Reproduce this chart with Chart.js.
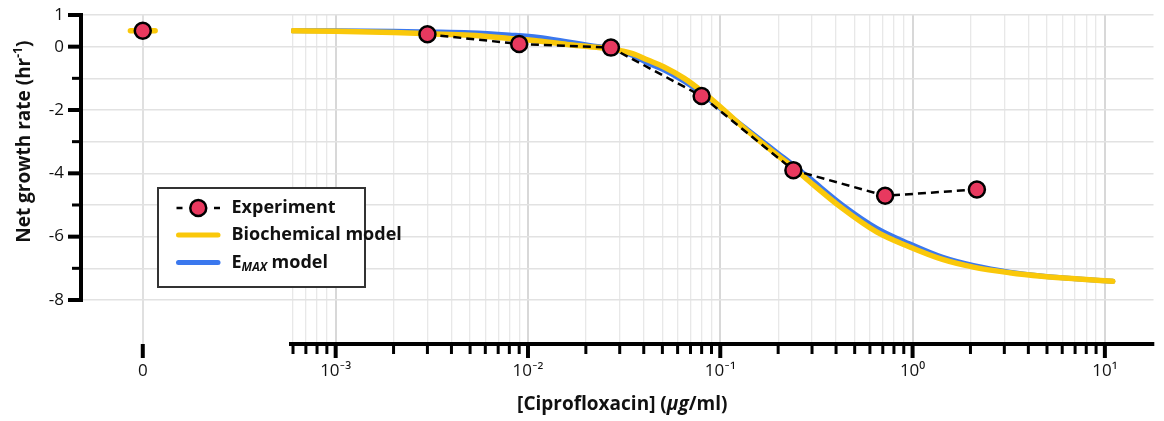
<!DOCTYPE html>
<html>
<head>
<meta charset="utf-8">
<script src="https://cdn.jsdelivr.net/npm/chart.js@4/dist/chart.umd.min.js"></script>
<style>
  html, body { margin: 0; padding: 0; background: #fff; }
  #wrap { position: relative; width: 1164px; height: 421px; }
</style>
</head>
<body>
<div id="wrap"><canvas id="growthChart"></canvas></div>
<script>
// ===== data =====
const concX = [0.003, 0.009, 0.027, 0.08, 0.24, 0.72, 2.16];      // ug/ml, 3-fold dilution
const expY = [0.39, 0.085, -0.03, -1.56, -3.9, -4.71, -4.51];
const zeroExpY = [0.5];                                           // no drug
const zeroModelX = [-0.2, 0.2];
const zeroModelY = [0.5, 0.5];

const bioX = [0.0006, 0.001, 0.002, 0.003, 0.005, 0.008, 0.0113, 0.016, 0.021, 0.027, 0.035, 0.042, 0.051, 0.065, 0.081, 0.1, 0.137, 0.2, 0.24, 0.29, 0.43, 0.65, 0.96, 1.43, 2.1, 3.2, 4.7, 7, 11];
const bioY = [0.50, 0.49, 0.45, 0.41, 0.36, 0.26, 0.18, 0.07, 0.0, -0.07, -0.22, -0.42, -0.64, -1.0, -1.43, -1.9, -2.64, -3.45, -3.82, -4.25, -5.1, -5.85, -6.32, -6.72, -6.97, -7.14, -7.25, -7.33, -7.41];
const emaxX = [0.0006, 0.001, 0.002, 0.003, 0.005, 0.008, 0.0113, 0.016, 0.021, 0.027, 0.035, 0.042, 0.051, 0.065, 0.081, 0.1, 0.137, 0.2, 0.24, 0.29, 0.43, 0.65, 0.96, 1.43, 2.1, 3.2, 4.7, 7, 11];
const emaxY = [0.50, 0.50, 0.49, 0.47, 0.44, 0.37, 0.30, 0.16, 0.04, -0.06, -0.28, -0.52, -0.74, -1.1, -1.5, -1.95, -2.6, -3.37, -3.74, -4.14, -4.99, -5.73, -6.22, -6.65, -6.92, -7.12, -7.24, -7.33, -7.41];

const xDecades = [0.001, 0.01, 0.1, 1, 10];
const xDecadeLabels = ['10⁻³', '10⁻²', '10⁻¹', '10⁰', '10¹'];
const yTickVals = [1, 0, -1, -2, -3, -4, -5, -6, -7, -8];
const yTickLabels = ['1', '0', '', '-2', '', '-4', '', '-6', '', '-8'];

const RED = '#E8395F', YELLOW = '#FAC80A', BLUE = '#3B78EE';
const FONT = '"Open Sans", Lato, sans-serif';
Chart.defaults.font.family = FONT;
Chart.defaults.color = '#111';

const pts = (xs, ys) => xs.map((x, i) => ({ x: x, y: ys[i] }));

function drawRich(ctx, parts, x, y) {
  let w = 0;
  parts.forEach(p => { ctx.font = p[1]; w += ctx.measureText(p[0]).width; });
  let cx = x - w / 2;
  parts.forEach(p => {
    ctx.font = p[1];
    ctx.fillText(p[0], cx, y + (p[2] || 0));
    cx += ctx.measureText(p[0]).width;
  });
}

function noPad(s) {
  s.paddingLeft = 0; s.paddingRight = 0; s.paddingTop = 0; s.paddingBottom = 0;
}

// axis lines + tick marks (variable lengths, chart.js can't do that per tick)
const axisMarks = {
  id: 'axisMarks',
  afterDraw(chart) {
    const { ctx, scales } = chart;
    const ys = scales.y, xs = scales.x, x0 = scales.x0;
    ctx.save();
    ctx.strokeStyle = '#000';
    ctx.lineWidth = 4;
    ctx.lineCap = 'square';
    ctx.beginPath();
    ctx.moveTo(ys.right, ys.getPixelForValue(yTickVals[0]));
    ctx.lineTo(ys.right, ys.getPixelForValue(yTickVals[yTickVals.length - 1]));
    ctx.stroke();
    ctx.lineCap = 'butt';
    yTickVals.forEach((v, i) => {
      const py = ys.getPixelForValue(v), major = yTickLabels[i] !== '';
      ctx.lineWidth = major ? 4 : 3;
      ctx.beginPath(); ctx.moveTo(ys.right, py); ctx.lineTo(ys.right - (major ? 13 : 9), py); ctx.stroke();
    });
    xs.ticks.forEach(t => {
      const px = xs.getPixelForValue(t.value), major = xDecades.includes(t.value);
      ctx.lineWidth = major ? 4 : 3;
      ctx.beginPath(); ctx.moveTo(px, xs.top); ctx.lineTo(px, xs.top + (major ? 14 : 10)); ctx.stroke();
    });
    x0.ticks.forEach(t => {
      const px = x0.getPixelForValue(t.value);
      ctx.lineWidth = 4;
      ctx.beginPath(); ctx.moveTo(px, x0.top); ctx.lineTo(px, x0.top + 14); ctx.stroke();
    });
    ctx.restore();
  }
};

// axis titles and legend (need sub/superscripts and italics)
const overlayText = {
  id: 'overlayText',
  afterDraw(chart) {
    const { ctx, chartArea, scales } = chart;
    const ys = scales.y, xs = scales.x;
    ctx.save();
    ctx.fillStyle = '#111';
    ctx.textAlign = 'left';
    ctx.textBaseline = 'middle';

    // y title
    ctx.save();
    ctx.translate(25, ys.getPixelForValue(-3));
    ctx.rotate(-Math.PI / 2);
    drawRich(ctx, [['Net growth rate (hr', 'bold 19px ' + FONT], ['-1', 'bold 12px ' + FONT, -6], [')', 'bold 19px ' + FONT]], 0, 0);
    ctx.restore();

    // x title
    drawRich(ctx, [['[Ciprofloxacin] (', 'bold 19px ' + FONT], ['μg', 'italic bold 19px ' + FONT], ['/ml)', 'bold 19px ' + FONT]],
      (chartArea.left + chartArea.right) / 2 + 5, xs.bottom + 17);

    // legend
    const bx = chartArea.left + 77, by = chartArea.top + 173, bw = 207, bh = 99;
    ctx.fillStyle = '#fff';
    ctx.fillRect(bx, by, bw, bh);
    ctx.strokeStyle = '#333';
    ctx.lineWidth = 2;
    ctx.strokeRect(bx, by, bw, bh);

    const sx1 = bx + 18.5, sx2 = bx + 62, tx = bx + 73.5;
    const rows = [by + 20, by + 47, by + 74.5];

    ctx.strokeStyle = '#000';
    ctx.lineWidth = 2.5;
    ctx.beginPath();
    ctx.moveTo(sx1, rows[0]); ctx.lineTo(sx1 + 6, rows[0]);
    ctx.moveTo(sx2 - 6, rows[0]); ctx.lineTo(sx2, rows[0]);
    ctx.stroke();
    ctx.fillStyle = RED;
    ctx.beginPath(); ctx.arc((sx1 + sx2) / 2, rows[0], 8, 0, Math.PI * 2); ctx.fill(); ctx.stroke();

    ctx.lineCap = 'round';
    ctx.lineWidth = 5;
    ctx.strokeStyle = YELLOW;
    ctx.beginPath(); ctx.moveTo(sx1 + 2, rows[1]); ctx.lineTo(sx2 - 2, rows[1]); ctx.stroke();
    ctx.strokeStyle = BLUE;
    ctx.beginPath(); ctx.moveTo(sx1 + 2, rows[2]); ctx.lineTo(sx2 - 2, rows[2]); ctx.stroke();

    ctx.fillStyle = '#111';
    ctx.font = 'bold 18px ' + FONT;
    ctx.fillText('Experiment', tx, rows[0]);
    ctx.fillText('Biochemical model', tx, rows[1]);
    let cx = tx;
    ctx.fillText('E', cx, rows[2]); cx += ctx.measureText('E').width;
    ctx.font = 'italic bold 12px ' + FONT;
    ctx.fillText('MAX', cx, rows[2] + 5); cx += ctx.measureText('MAX').width;
    ctx.font = 'bold 18px ' + FONT;
    ctx.fillText(' model', cx, rows[2]);
    ctx.restore();
  }
};

const pointStyle = {
  pointRadius: 8, pointHoverRadius: 8,
  pointBackgroundColor: RED, pointBorderColor: '#000', pointBorderWidth: 2.5
};

new Chart(document.getElementById('growthChart'), {
  type: 'line',
  data: {
    datasets: [
      Object.assign({ label: 'Experiment', data: pts(concX, expY), xAxisID: 'x',
        borderColor: '#000', borderWidth: 2.5, borderDash: [8, 5], tension: 0, order: 0 }, pointStyle),
      Object.assign({ label: 'Experiment (no drug)', data: pts([0], zeroExpY), xAxisID: 'x0',
        showLine: false, order: 0 }, pointStyle),
      { label: 'Biochemical model', data: pts(bioX, bioY), xAxisID: 'x', borderColor: YELLOW,
        borderWidth: 5.5, pointRadius: 0, cubicInterpolationMode: 'monotone', borderCapStyle: 'round', order: 1 },
      { label: 'Biochemical model (no drug)', data: pts(zeroModelX, zeroModelY), xAxisID: 'x0', borderColor: YELLOW,
        borderWidth: 5.5, pointRadius: 0, borderCapStyle: 'round', order: 1 },
      { label: 'EMAX model', data: pts(emaxX, emaxY), xAxisID: 'x', borderColor: BLUE,
        borderWidth: 5, pointRadius: 0, cubicInterpolationMode: 'monotone', borderCapStyle: 'round', order: 2 }
    ]
  },
  options: {
    responsive: true,
    maintainAspectRatio: false,
    animation: false,
    layout: { padding: { top: 15, right: 2, bottom: 33, left: 0 } },
    plugins: { legend: { display: false }, tooltip: { enabled: false } },
    scales: {
      x0: {
        type: 'linear', position: 'bottom', stack: 'conc', stackWeight: 211.7,
        min: -1, max: 2.4,
        afterBuildTicks: s => { s.ticks = [{ value: 0 }]; },
        afterFit: s => { s.height = 44; noPad(s); },
        ticks: { callback: () => '0', font: { size: 17 }, padding: 3, maxRotation: 0 },
        grid: { color: '#e0e0e0', lineWidth: 2, tickLength: 14, tickColor: 'rgba(0,0,0,0)' },
        border: { display: false }
      },
      x: {
        type: 'logarithmic', position: 'bottom', stack: 'conc', stackWeight: 869.3,
        min: 5.86e-4, max: 17.9,
        afterBuildTicks: s => {
          const t = [];
          for (let e = -4; e <= 1; e++) {
            for (let m = 1; m <= 9; m++) {
              const v = Number((m * Math.pow(10, e)).toPrecision(6));
              if (v >= s.min && v <= s.max) t.push({ value: v });
            }
          }
          s.ticks = t;
        },
        afterFit: s => { s.height = 44; noPad(s); },
        ticks: {
          autoSkip: false, maxRotation: 0, minRotation: 0, padding: 3, font: { size: 17 },
          callback: v => { const i = xDecades.indexOf(v); return i >= 0 ? xDecadeLabels[i] : ''; }
        },
        grid: {
          color: c => xDecades.includes(c.tick.value) ? '#d8d8d8' : '#e8e8e8',
          lineWidth: c => xDecades.includes(c.tick.value) ? 2 : 1.3,
          tickLength: 14, tickColor: 'rgba(0,0,0,0)'
        },
        border: { display: true, color: '#000', width: 4 }
      },
      y: {
        type: 'linear', min: -9.39, max: 1,
        afterBuildTicks: s => { s.ticks = yTickVals.map(v => ({ value: v })); },
        afterFit: s => { s.width = 81; noPad(s); },
        ticks: {
          font: { size: 17 }, padding: 5,
          callback: v => yTickLabels[yTickVals.indexOf(v)]
        },
        grid: { color: '#e2e2e2', lineWidth: 1.6, tickLength: 12, tickColor: 'rgba(0,0,0,0)' },
        border: { display: false }
      }
    }
  },
  plugins: [axisMarks, overlayText]
});
</script>
</body>
</html>
